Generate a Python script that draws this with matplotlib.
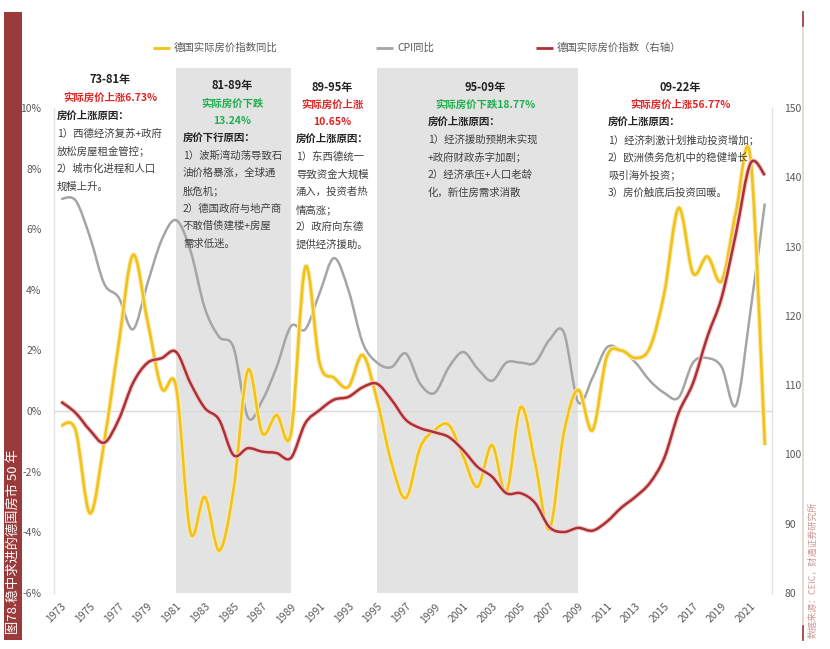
import numpy as np
import matplotlib
matplotlib.use("Agg")
import matplotlib.pyplot as plt
import matplotlib.patheffects as pe
from matplotlib.path import Path
from matplotlib.patches import PathPatch, Rectangle

plt.rcParams['font.family'] = ['Noto Sans CJK SC', 'DejaVu Sans']

# data
years = list(range(1973, 2023))
hpi_yoy = [-0.47, -0.63, -3.37, -1.0, 2.2, 5.15, 3.0, 0.75, 0.8, -4.0,
           -2.83, -4.6, -2.6, 1.35, -0.73, -0.13, -0.73, 4.75, 1.58, 1.1,
           0.8, 1.85, 0.36, -1.7, -2.87, -1.2, -0.63, -0.46, -1.5, -2.5,
           -1.12, -2.67, 0.13, -1.7, -3.9, -0.73, 0.7, -0.63, 1.8, 2.0,
           1.75, 2.1, 3.9, 6.7, 4.55, 5.1, 4.3, 6.6, 8.35, -1.12]
cpi_yoy = [7.0, 6.95, 5.75, 4.2, 3.75, 2.7, 4.2, 5.65, 6.3, 5.3,
           3.4, 2.45, 2.1, -0.2, 0.35, 1.45, 2.8, 2.7, 3.9, 5.05,
           4.0, 2.25, 1.6, 1.45, 1.9, 0.9, 0.6, 1.45, 1.95, 1.4,
           1.0, 1.6, 1.6, 1.6, 2.35, 2.6, 0.3, 1.1, 2.1, 2.0,
           1.6, 1.0, 0.6, 0.45, 1.6, 1.75, 1.45, 0.2, 3.3, 6.85]
hpi_index = [107.6, 106.0, 103.5, 101.7, 105.0, 110.3, 113.2, 113.9, 114.8, 110.3,
             106.7, 105.0, 99.9, 100.9, 100.4, 100.2, 99.5, 104.5, 106.4, 107.9,
             108.3, 109.7, 110.2, 107.9, 105.0, 103.8, 103.2, 102.5, 100.6, 98.2,
             96.8, 94.4, 94.4, 93.0, 89.5, 88.8, 89.4, 89.0, 90.3, 92.3,
             93.9, 95.9, 99.5, 106.0, 110.3, 117.0, 122.7, 132.0, 142.0, 140.3]
periods = [(1981, 1989), (1995, 2009)]
left_ticks = [-6, -4, -2, 0, 2, 4, 6, 8, 10]
right_ticks = [80, 90, 100, 110, 120, 130, 140, 150]
year_labels = list(range(1973, 2023, 2))

YELLOW = '#F2C21B'
GRAY = '#A5A5A5'
RED = '#A83236'
TXT = '#595959'


def smooth_path(x, y):
    # Excel-like smoothed line: cubic Bezier through each point
    n = len(x)
    verts = [(x[0], y[0])]
    codes = [Path.MOVETO]
    for i in range(n - 1):
        xa, ya = (x[i - 1], y[i - 1]) if i > 0 else (x[i], y[i])
        xb, yb = (x[i + 2], y[i + 2]) if i + 2 < n else (x[i + 1], y[i + 1])
        c1 = (x[i] + (x[i + 1] - xa) / 6, y[i] + (y[i + 1] - ya) / 6)
        c2 = (x[i + 1] - (xb - x[i]) / 6, y[i + 1] - (yb - y[i]) / 6)
        verts += [c1, c2, (x[i + 1], y[i + 1])]
        codes += [Path.CURVE4] * 3
    return Path(verts, codes)


fig = plt.figure(figsize=(8.3, 6.49), dpi=100)
ax = fig.add_axes([54 / 830, 1 - 593 / 649, (772 - 54) / 830, (593 - 108) / 649])
ax2 = ax.twinx()

ax.set_xlim(1972.5, 2022.5)
ax.set_ylim(-6, 10)
ax2.set_ylim(80, 150)

for a, b in periods:
    ax.axvspan(a, b, ymin=0, ymax=1.0825, color='#E3E3E3', lw=0, zorder=0, clip_on=False)

ax.axhline(0, color='#D9D9D9', lw=1, zorder=1)

p1 = PathPatch(smooth_path(years, hpi_yoy), fill=False, edgecolor=YELLOW, lw=1.9, zorder=3,
               path_effects=[pe.Stroke(linewidth=3.4, foreground='#FBEBB0'), pe.Normal()])
p2 = PathPatch(smooth_path(years, cpi_yoy), fill=False, edgecolor=GRAY, lw=1.8, zorder=2)
ax.add_patch(p2)
ax.add_patch(p1)
p3 = PathPatch(smooth_path(years, hpi_index), fill=False, edgecolor=RED, lw=1.8, zorder=3,
               path_effects=[pe.Stroke(linewidth=3.4, foreground='#F6CACA'), pe.Normal()])
ax2.add_patch(p3)

ax.set_yticks(left_ticks)
ax.set_yticklabels([f'{v}%' for v in left_ticks])
ax2.set_yticks(right_ticks)
ax2.set_yticklabels([str(v) for v in right_ticks])
ax.set_xticks(year_labels)
ax.set_xticklabels([str(y) for y in year_labels], rotation=45, ha='right', rotation_mode='anchor')
ax.tick_params(axis='x', length=0, pad=6, labelsize=7.5, labelcolor=TXT)
ax.tick_params(axis='y', length=0, pad=9, labelsize=7.5, labelcolor=TXT)
ax2.tick_params(axis='y', length=0, pad=9, labelsize=7.5, labelcolor=TXT)

for a in (ax, ax2):
    for s in ('top', 'bottom'):
        a.spines[s].set_visible(False)
    a.spines['left'].set_color('#E0E0E0')
    a.spines['right'].set_color('#E0E0E0')

# legend
legend_items = [(YELLOW, '德国实际房价指数同比', 153), (GRAY, 'CPI同比', 376), (RED, '德国实际房价指数（右轴）', 536)]
for col, lab, px in legend_items:
    fig.add_artist(plt.Line2D([px / 830, (px + 17) / 830], [1 - 48 / 649] * 2, color=col, lw=2,
                              solid_capstyle='butt'))
    fig.text((px + 21) / 830, 1 - 48 / 649, lab, fontsize=7.5, color=TXT, va='center', ha='left')


def ftext(px, py, s, **kw):
    fig.text(px / 830, 1 - py / 649, s, va='center', **kw)


RED_T = '#E02424'
GREEN_T = '#1FAF4E'
BODY = '#404040'

blocks = [
    (110, 57, ['73-81年'], [('实际房价上涨6.73%', RED_T)], 80,
     ['房价上涨原因：', '1）西德经济复苏+政府', '放松房屋租金管控；', '2）城市化进程和人口', '规模上升。'], 116),
    (232, 183, ['81-89年'], [('实际房价下跌', GREEN_T), ('13.24%', GREEN_T)], 86,
     ['房价下行原因：', '1）波斯湾动荡导致石', '油价格暴涨，全球通', '胀危机；', '2）德国政府与地产商',
      '不敢借债建楼+房屋', '需求低迷。'], 138),
    (332, 296, ['89-95年'], [('实际房价上涨', RED_T), ('10.65%', RED_T)], 87,
     ['房价上涨原因：', '1）东西德统一', '导致资金大规模', '涌入，投资者热', '情高涨；', '2）政府向东德',
      '提供经济援助。'], 139),
    (485, 428, ['95-09年'], [('实际房价下跌18.77%', GREEN_T)], 87,
     ['房价上涨原因：', '1）经济援助预期未实现', '+政府财政赤字加剧；', '2）经济承压+人口老龄',
      '化，新住房需求消散'], 122),
    (680, 608, ['09-22年'], [('实际房价上涨56.77%', RED_T)], 87,
     ['房价上涨原因：', '1）经济刺激计划推动投资增加；', '2）欧洲债务危机中的稳健增长',
      '吸引海外投资；', '3）房价触底后投资回暖。'], 122),
]
for cx, lx, head, sub, y0, body, yb in blocks:
    ftext(cx, y0, head[0], ha='center', fontsize=8, fontweight='bold', color='#222222')
    for k, (s, c) in enumerate(sub):
        ftext(cx, y0 + 17.5 * (k + 1), s, ha='center', fontsize=7.5, fontweight='bold', color=c)
    for k, s in enumerate(body):
        if k == 0:
            ftext(lx, yb, s, ha='left', fontsize=7.5, fontweight='bold', color='#222222')
        else:
            ftext(lx, yb + 17.6 * k, s, ha='left', fontsize=7.5, color=BODY)

# page decorations: side strip with caption, source note
fig.add_artist(Rectangle((4 / 830, 1 - 640 / 649), 18 / 830, 628 / 649, transform=fig.transFigure,
                         color='#9B3A3A', lw=0))
fig.text(13.5 / 830, 1 - 634 / 649, '图78.稳中求进的德国房市 50 年', rotation=90, ha='center', va='bottom',
         fontsize=9.5, color='white')
fig.add_artist(plt.Line2D([803 / 830] * 2, [1 - 12 / 649, 1 - 640 / 649], color='#DDD5CC', lw=1.2))
fig.add_artist(plt.Line2D([803 / 830] * 2, [1 - 12 / 649, 1 - 26 / 649], color='#9B3A3A', lw=1.2))
fig.add_artist(plt.Line2D([803 / 830] * 2, [1 - 626 / 649, 1 - 640 / 649], color='#9B3A3A', lw=1.2))
fig.text(813 / 830, 1 - 638 / 649, '数据来源：CEIC，财通证券研究所', rotation=90, ha='center', va='bottom',
         fontsize=6.5, color='#D09696')

fig.savefig('out.png', dpi=100)
